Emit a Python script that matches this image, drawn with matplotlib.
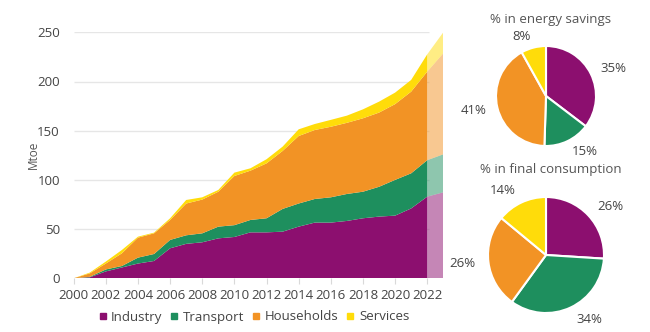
import matplotlib.pyplot as plt
import numpy as np

plt.rcParams['font.family'] = ['Open Sans', 'DejaVu Sans']

years = list(range(2000, 2024))
industry_top = [0, 1, 7, 11, 15, 17.6, 30.5, 35, 36.6, 40.6, 42, 46.7, 46.7, 47.4,
                52.5, 56.6, 56.6, 58.3, 61, 62.7, 63.7, 71, 83, 87.4]
transport_top = [0, 1.5, 9, 12.5, 21, 24.7, 39, 43.7, 45.7, 52.5, 54, 59.3, 61, 70.5,
                 76, 80.6, 82.3, 85.7, 88, 93, 100, 106.7, 120, 126]
households_top = [0, 5, 15, 25.4, 41.3, 45.7, 59.3, 76, 80, 88, 104, 109.4, 116.8, 129.4,
                  144.6, 150.7, 154, 158, 162.6, 168.4, 177, 189.7, 210, 228.7]
services_top = [0, 5.8, 17, 28.8, 42.3, 46.4, 61, 79.6, 82.3, 89.8, 107.4, 111.8, 121, 133.8,
                151.4, 156.8, 161, 165.3, 171.7, 179.5, 188.7, 201.6, 227.6, 250]

sectors = ["Industry", "Transport", "Households", "Services"]
colors = ["#8C0F6F", "#1E8F5E", "#F29325", "#FFDC0A"]
savings_share = [35, 15, 41, 8]
consumption_share = [26, 34, 26, 14]

tops = np.array([industry_top, transport_top, households_top, services_top])
layers = np.diff(np.vstack([np.zeros(len(years)), tops]), axis=0)
x = np.array(years)

W, H = 650, 332
fig = plt.figure(figsize=(6.5, 3.32), dpi=100)

# main stacked area chart
ax = fig.add_axes([73.7 / W, 1 - 278.3 / H, (443.3 - 73.7) / W, (278.3 - 32.3) / H])
ax.stackplot(x[:-1], layers[:, :-1], colors=colors, linewidth=0)
ax.stackplot(x[-2:], layers[:, -2:], colors=colors, alpha=0.5, linewidth=0)
for v in range(50, 251, 50):
    ax.hlines(v, 2000, 2022.1, color="#E6E6E6", lw=1, zorder=0)
ax.hlines(0, 2000, 2022.1, color="#D9D9D9", lw=1, zorder=0)
ax.set_xlim(2000, 2023)
ax.set_ylim(0, 250)
for s in ax.spines.values():
    s.set_visible(False)
ax.set_xticks(range(2000, 2023, 2))
ax.set_yticks(range(0, 251, 50))
ax.tick_params(axis='x', length=4, color="#D9D9D9", labelsize=9.5, labelcolor="#444444", pad=4)
ax.tick_params(axis='y', length=0, labelsize=9.5, labelcolor="#444444", pad=10)
ax.set_ylabel("Mtoe", fontsize=8.5, color="#555555", labelpad=-2)

# legend
handles = [plt.Line2D([], [], marker='s', ls='', color=c, markersize=5) for c in colors]
fig.legend(handles, sectors, loc='center', bbox_to_anchor=(254 / W, 1 - 317 / H), ncol=4,
           frameon=False, fontsize=9.5, handlelength=0.6, handletextpad=0.35,
           columnspacing=0.6, labelcolor="#444444")


def draw_pie(cx, cy, r, shares, title, ty):
    size = 160
    pax = fig.add_axes([(cx - size / 2) / W, 1 - (cy + size / 2) / H, size / W, size / H])
    pax.pie(shares, colors=colors, startangle=90, counterclock=False,
            labels=[f"{v}%" for v in shares], labeldistance=1.22,
            wedgeprops=dict(edgecolor="white", linewidth=1.5),
            textprops=dict(fontsize=9.5, color="#444444"))
    lim = (size / 2) / r
    pax.set_xlim(-lim, lim)
    pax.set_ylim(-lim, lim)
    pax.set_aspect('equal')
    fig.text(551 / W, 1 - ty / H, title, ha='center', va='center', fontsize=9.5, color="#555555")


draw_pie(546, 96, 50, savings_share, "% in energy savings", 19)
draw_pie(546, 255, 58, consumption_share, "% in final consumption", 169)

fig.savefig("out.png", dpi=100)
